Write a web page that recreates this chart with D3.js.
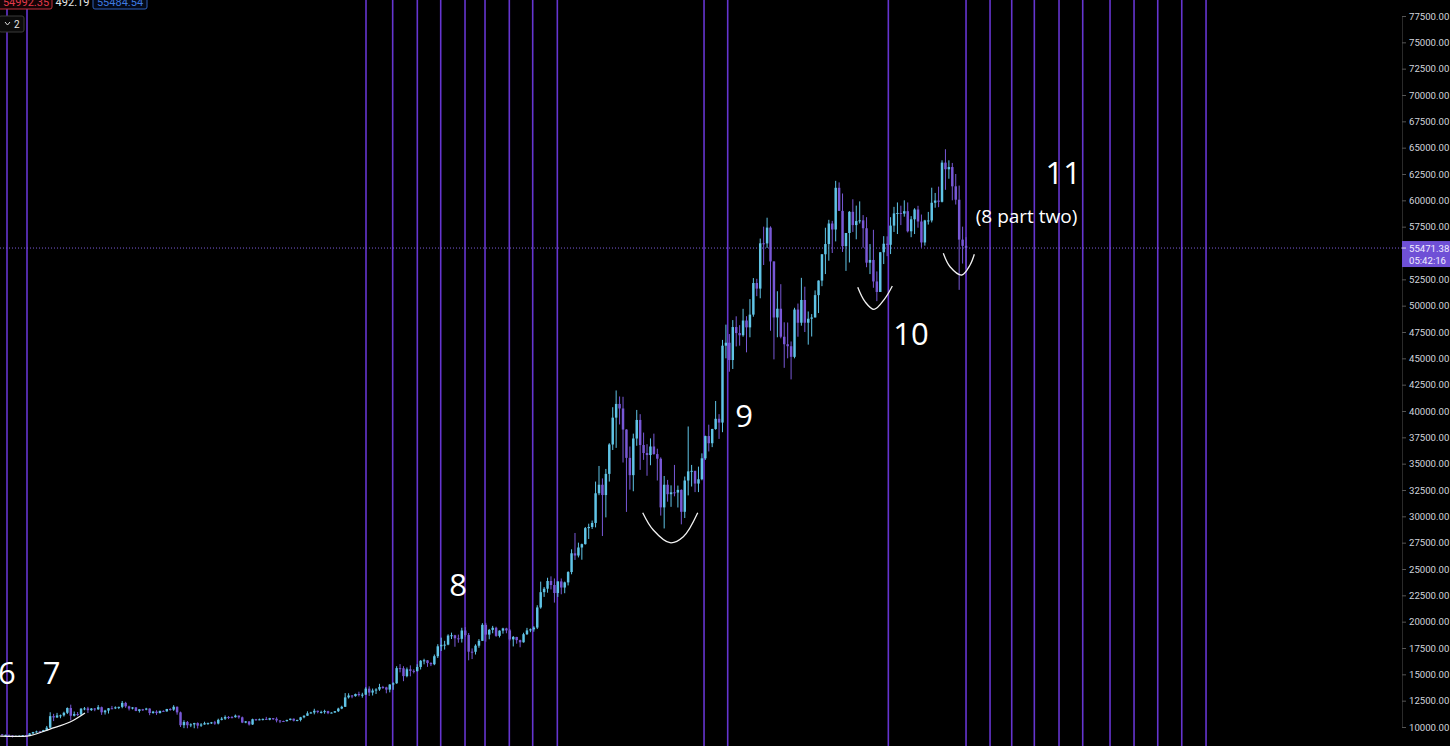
<!DOCTYPE html>
<html><head><meta charset="utf-8">
<script src="https://cdn.jsdelivr.net/npm/d3@7"></script>
<style>html,body{margin:0;padding:0;background:#000;overflow:hidden}</style>
</head><body>
<svg id="chart" width="1450" height="746"></svg>
<script>
// ---------- DATA (daily candles, [open, high, low, close]) ----------
const startDate = "2020-07-12";
const jul2020 = [
 [9235,9340,9150,9300],[9300,9340,9200,9240],[9240,9275,9120,9255],[9255,9275,9170,9195],
 [9195,9210,9005,9130],[9130,9190,9060,9155],[9155,9195,9120,9170],[9170,9230,9110,9210],
 [9210,9220,9130,9160],[9160,9420,9150,9390],[9390,9540,9280,9525],[9525,9650,9460,9580],
 [9580,9640,9460,9540],[9540,9730,9520,9700],[9700,10100,9650,9935],[9935,11400,9900,11030],
 [11030,11250,10560,10910],[10910,11340,10860,11100],[11100,11180,10830,11110],[11110,11450,10990,11350]];
const aug2020 = [
 [11350,11860,11230,11800],[11800,12120,10630,11070],[11070,11470,11000,11230],[11230,11420,11030,11190],
 [11190,11790,11090,11740],[11740,11900,11590,11765],[11765,11915,11330,11600],[11600,11800,11530,11755],
 [11755,11800,11500,11675],[11675,12080,11630,11880],[11880,11940,11150,11395],[11395,11630,11180,11560],
 [11560,11800,11280,11780],[11780,12000,11700,11770],[11770,11960,11700,11865],[11865,11930,11700,11910],
 [11910,12470,11780,12290],[12290,12390,11820,11960],[11960,12020,11570,11750],[11750,11885,11670,11860],
 [11860,11890,11500,11525],[11525,11690,11370,11680],[11680,11720,11520,11650],[11650,11820,11590,11750],
 [11750,11770,11120,11330],[11330,11530,11260,11460],[11460,11590,11150,11320],[11320,11550,11290,11530],
 [11530,11580,11440,11480],[11480,11720,11460,11710],[11710,11790,11550,11650]];
const sep2020 = [
 [11650,12070,11530,11920],[11920,11950,11170,11390],[11390,11460,10000,10170],[10170,10640,9890,10470],
 [10470,10570,9880,10170],[10170,10350,9990,10250],[10250,10400,9880,10370],[10370,10440,9860,10130],
 [10130,10370,10010,10240],[10240,10500,10220,10360],[10360,10400,10200,10390],[10390,10480,10290,10440],
 [10440,10580,10210,10330],[10330,10790,10250,10680],[10680,10940,10630,10790],[10790,11100,10670,10950],
 [10950,11040,10750,10940],[10940,11030,10820,10930],[10930,11180,10890,11080],[11080,11090,10790,10920],
 [10920,10990,10370,10420],[10420,10570,10360,10530],[10530,10550,10140,10240],[10240,10790,10200,10740],
 [10740,10770,10590,10690],[10690,10800,10640,10730],[10730,10800,10620,10770],[10770,10960,10670,10690],
 [10690,10870,10640,10840],[10840,10850,10660,10780]];
const oct2020 = [
 [10780,10920,10440,10620],[10620,10660,10370,10570],[10570,10600,10510,10550],[10550,10690,10530,10670],
 [10670,10800,10630,10790],[10790,10800,10530,10600],[10600,10690,10540,10670],[10670,10960,10530,10920],
 [10920,11110,10830,11070],[11070,11490,11060,11300],[11300,11440,11270,11380],[11380,11730,11200,11540],
 [11540,11560,11300,11430],[11430,11550,11280,11430],[11430,11640,11260,11510],[11510,11540,11220,11320],
 [11320,11400,11300,11370],[11370,11500,11350,11500],[11500,11830,11420,11750],[11750,12020,11690,11920],
 [11920,13220,11900,12810],[12810,13200,12700,12990],[12990,13030,12730,12930],[12930,13170,12880,13130],
 [13130,13350,12900,13030],[13030,13250,12780,13070],[13070,13780,13050,13640],[13640,13860,12950,13270],
 [13270,13650,12990,13460],[13460,13680,13130,13560],[13560,14100,13430,13800]];
const nov2020 = [
 [13800,13900,13620,13760],[13760,13820,13200,13550],[13550,14070,13290,14030],[14030,14240,13530,14150],
 [14150,15770,14100,15590],[15590,15970,15190,15580],[15580,15770,14350,14830],[14830,15650,14720,15480],
 [15480,15850,14810,15330],[15330,15480,15090,15300],[15300,15960,15280,15700],[15700,16350,15460,16290],
 [16290,16480,15950,16330],[16330,16340,15710,16070],[16070,16150,15780,15960],[15960,16880,15870,16720],
 [16720,17860,16550,17660],[17660,18480,17220,17800],[17800,18180,17350,17820],[17820,18800,17760,18680],
 [18680,18960,18350,18710],[18710,18750,17620,18420],[18420,18770,18000,18370],[18370,19420,18020,19160],
 [19160,19480,18570,18730],[18730,18920,16330,17150],[17150,17460,16450,17140],[17140,17850,16880,17720],
 [17720,18350,17520,18180],[18180,19860,18180,19700]];
const dec2020 = [
 [19700,19890,18100,18770],[18770,19310,18330,19220],[19220,19600,18900,19420],[19420,19520,18560,18650],
 [18650,19180,18500,19150],[19150,19420,18860,19360],[19360,19420,18900,19170],[19170,19300,18200,18320],
 [18320,18640,17650,18550],[18550,18560,17910,18250],[18250,18290,17570,18040],[18040,18950,18010,18810],
 [18810,19410,18730,19170],[19170,19350,19000,19270],[19270,19570,19050,19440],[19440,21560,19300,21350],
 [21350,23800,21230,22800],[22800,23290,22350,23130],[23130,24170,22750,23860],[23860,24300,23060,23480],
 [23480,24100,21810,22720],[22720,23840,22350,23820],[23820,24100,22600,23240],[23240,23800,22700,23730],
 [23730,24790,23440,24710],[24710,26870,24500,26490],[26490,28420,25860,26280],[26280,27500,26100,27040],
 [27040,27410,25880,27360],[27360,28990,27320,28880],[28880,29300,27850,28990]];
const jan2021 = [
 [28990,29600,28800,29370],[29370,33300,28950,32190],[32190,34780,32010,33000],[33000,33600,28130,32020],
 [32020,34500,29900,34030],[34030,36940,33300,36820],[36820,40360,36300,39370],[39370,41950,36500,40670],
 [40670,41380,38720,40240],[40240,41350,35110,38240],[38240,38260,30420,35550],[35550,36630,32530,33910],
 [33910,37850,32380,37390],[37390,40100,36700,39150],[39150,39700,34410,36770],[36770,37950,35360,36010],
 [36010,36850,33850,35820],[35820,37400,34850,36630],[36630,37850,35850,35910],[35910,36420,33400,35470],
 [35470,35600,30070,30850],[30850,33830,28850,33000],[33000,33460,31390,32100],[32100,32940,30900,32280],
 [32280,34880,31900,32260],[32260,32920,30840,32510],[32510,32560,29240,30430],[30430,33780,29840,33400],
 [33400,38530,31990,34270],[34270,34880,32830,34320],[34320,34320,32300,33110]];
const feb2021 = [
 [33110,34720,32300,33520],[33520,35980,33420,35510],[35510,37660,35360,37620],[37620,38700,36160,36940],
 [36940,38310,36570,38290],[38290,40950,38220,39260],[39260,39700,37350,38900],[38900,46750,37990,46200],
 [46200,48200,45000,46480],[46480,47310,43730,44840],[44840,48630,43990,47970],[47970,48990,46130,47400],
 [47400,48150,46200,47190],[47190,49700,47050,48590],[48590,49000,45570,47940],[47940,50620,47000,49150],
 [49150,52620,48950,52150],[52150,52550,50900,51620],[51620,56370,50700,55920],[55920,57500,53860,55910],
 [55910,58350,55480,57410],[57410,57530,47620,54200],[54200,54200,44900,48880],[48880,51370,47000,49710],
 [49710,52040,46900,47050],[47050,48420,44100,46340],[46340,48400,45000,46150],[46150,46600,43000,45140]];
const mar2021 = [
 [45140,49800,45000,49630],[49630,50200,47050,48380],[48380,52640,48100,50540],[50540,51800,47500,48380],
 [48380,49450,46300,48760],[48760,49200,47070,48880],[48880,51450,48880,51000],[51000,52400,49300,52380],
 [52380,54900,51850,54880],[54880,57400,53000,55850],[55850,58150,54270,57800],[57800,58050,55000,57230],
 [57230,61850,56100,61190],[61190,61700,59000,59000],[59000,60650,55100,55650],[55650,56900,53300,56900],
 [56900,58980,54100,58910],[58910,60100,57000,57650],[57650,59500,56300,58030],[58030,59900,57800,58100],
 [58100,58600,55500,57350],[57350,58400,53650,54080],[54080,55850,53000,54340],[54340,57200,51700,52300],
 [52300,53250,50430,51300],[51300,55100,51300,55070],[55070,56600,53950,55880],[55880,56580,54700,55780],
 [55780,58400,54900,57600],[57600,59380,57000,58760],[58760,59800,56800,58800]];
const apr2021 = [
 [58800,59490,57650,58740],[58740,60000,58450,58970],[58970,59800,56950,57060],[57060,58500,56500,58200],
 [58200,59250,56800,59130],[59130,59480,57400,57990],[57990,58650,55500,56000],[56000,58150,55700,58090],
 [58090,58900,57700,58090],[58090,61200,57900,59770],[59770,60700,59300,59980],[59980,61300,59350,59860],
 [59860,63800,59800,63580],[63580,64850,61000,62950],[62950,63800,62050,63160],[63160,63550,60000,61330],
 [61330,62500,59600,60060],[60060,61400,51500,56270],[56270,57500,54000,55680],[55680,56500,53500,55470]];

// vertical cycle lines (candle index, fractional)
const cycleLines = [2.41, 8.24, 107.07, 114.85, 122.03, 128.85, 135.94, 141.77, 148.85, 155.67, 162.85,
  205.62, 212.52, 259.35, 282, 289.0, 295.32, 301.91, 309.11, 316.02, 323.98, 330.98, 337.89, 344.89, 351.97];

// price-scale labels (55000 is hidden under the last-price badge in the reference)
const priceTicks = [10000,12500,15000,17500,20000,22500,25000,27500,30000,32500,35000,37500,40000,42500,
  45000,47500,50000,52500,57500,60000,62500,65000,67500,70000,72500,75000,77500];
const lastPrice = 55471.38;
const countdown = "05:42:16";
const bidText = "54992.35", spreadText = "492.19", askText = "55484.54", badgeText = "2";

// annotation labels [index, price, text, kind]
const labels = [
  [2.4, 14080, "6", "big"], [15.4, 14080, "7", "big"], [133.9, 22435, "8", "big"],
  [217.3, 38480, "9", "big"], [265.97, 46265, "10", "big"], [310.37, 61550, "11", "big"],
  [299.64, 57847, "(8 part two)", "small"]];
// hand-drawn curves, points as [index, price]
const curves = [
  [[0.4,9143],[9.1,9190],[14.94,9808],[20.8,10472],[25.15,11327]],
  [[187.74,30343],[190.83,28701],[195.7,27495],[199.58,28065],[203.78,30343]],
  [[250.43,51743],[252.55,50376],[255.18,49654],[258.38,50698],[260.51,51866]],
  [[275.38,54971],[277.34,53699],[280.75,52911],[283.17,53860],[284.42,54876]]];

// ---------- DRAW ----------
const ohlc = [].concat(jul2020, aug2020, sep2020, oct2020, nov2020, dec2020, jan2021, feb2021, mar2021, apr2021);
const W = 1450, H = 746, axisX = 1402;
const svg = d3.select("#chart");
svg.append("rect").attr("width", W).attr("height", H).attr("fill", "#000");

const x = d3.scaleLinear().domain([0.37, 409.1]).range([0, axisX]);
const y = d3.scaleLinear().domain([10000, 77500]).range([727, 16]);
const step = x(1) - x(0);

svg.append("defs").append("clipPath").attr("id", "plot")
  .append("rect").attr("x", 0).attr("y", 0).attr("width", axisX).attr("height", H);
const plot = svg.append("g").attr("clip-path", "url(#plot)");

// vertical lines
plot.append("g").selectAll("line").data(cycleLines).join("line")
  .attr("x1", d => x(d)).attr("x2", d => x(d)).attr("y1", 0).attr("y2", H)
  .attr("stroke", "#6535cf").attr("stroke-width", 1.6);

// last price dotted line
plot.append("line").attr("x1", 0).attr("x2", axisX).attr("y1", y(lastPrice)).attr("y2", y(lastPrice))
  .attr("stroke", "#7b5bd6").attr("stroke-width", 1).attr("stroke-dasharray", "1,2");

const upCol = "#60c4e6", downCol = "#7858d6";
const cg = plot.append("g");
cg.selectAll("line").data(ohlc).join("line")
  .attr("x1", (d, i) => x(i)).attr("x2", (d, i) => x(i))
  .attr("y1", d => y(d[1])).attr("y2", d => y(d[2]))
  .attr("stroke", d => d[3] >= d[0] ? upCol : downCol).attr("stroke-width", 1);
cg.selectAll("rect").data(ohlc).join("rect")
  .attr("x", (d, i) => x(i) - step * 0.36).attr("width", step * 0.72)
  .attr("y", d => y(Math.max(d[0], d[3])))
  .attr("height", d => Math.max(1, Math.abs(y(d[0]) - y(d[3]))))
  .attr("fill", d => d[3] >= d[0] ? upCol : downCol);

// curves
const line = d3.line().x(d => x(d[0])).y(d => y(d[1])).curve(d3.curveCatmullRom);
plot.append("g").selectAll("path").data(curves).join("path")
  .attr("d", line).attr("fill", "none").attr("stroke", "#f2f2f2").attr("stroke-width", 1.3);

// labels
plot.append("g").selectAll("text").data(labels).join("text")
  .attr("x", d => x(d[0])).attr("y", d => y(d[1]))
  .attr("text-anchor", "middle").attr("fill", "#ffffff")
  .attr("font-family", "'Open Sans', sans-serif")
  .attr("font-size", d => d[3] === "big" ? 31 : 19)
  .text(d => d[2]);

// right axis
const axis = svg.append("g").attr("transform", `translate(${axisX},0)`)
  .call(d3.axisRight(y).tickValues(priceTicks).tickFormat(d3.format(".2f")).tickSize(4).tickPadding(3));
axis.select(".domain").attr("stroke", "#2a2a2a");
axis.selectAll(".tick line").attr("stroke", "#555");
axis.selectAll(".tick text").attr("fill", "#d1d4dc").attr("font-family", "Roboto, sans-serif").attr("font-size", 9.6);

// last price badge
const py = y(lastPrice);
svg.append("rect").attr("x", axisX).attr("y", py - 7).attr("width", W - axisX).attr("height", 26).attr("fill", "#6f50d6");
svg.append("line").attr("x1", axisX).attr("x2", axisX + 4).attr("y1", py).attr("y2", py).attr("stroke", "#ddd");
svg.append("text").attr("x", axisX + 7).attr("y", py + 4).attr("fill", "#f0ecff")
  .attr("font-family", "Roboto, sans-serif").attr("font-size", 9.6).text(d3.format(".2f")(lastPrice));
svg.append("text").attr("x", axisX + 7).attr("y", py + 16).attr("fill", "#f0ecff")
  .attr("font-family", "Roboto, sans-serif").attr("font-size", 9.6).text(countdown);

// header (sell / spread / buy)
const hdr = svg.append("g").attr("font-family", "Roboto, sans-serif").attr("font-size", 11);
hdr.append("rect").attr("x", -4).attr("y", -14).attr("width", 56).attr("height", 23).attr("rx", 2)
  .attr("fill", "#140406").attr("stroke", "#c0303f");
hdr.append("text").attr("x", 26).attr("y", 6).attr("text-anchor", "middle").attr("fill", "#e23a4c").text(bidText);
hdr.append("text").attr("x", 72.5).attr("y", 6).attr("text-anchor", "middle").attr("fill", "#e8e8e8").text(spreadText);
hdr.append("rect").attr("x", 93).attr("y", -14).attr("width", 54).attr("height", 23).attr("rx", 2)
  .attr("fill", "#040a18").attr("stroke", "#2f5fb8");
hdr.append("text").attr("x", 120).attr("y", 6).attr("text-anchor", "middle").attr("fill", "#3f7be0").text(askText);
hdr.append("rect").attr("x", -1).attr("y", 16).attr("width", 25).attr("height", 16).attr("rx", 2)
  .attr("fill", "#0b0b0b").attr("stroke", "#3a3a3a");
hdr.append("path").attr("d", "M5,22 L7.5,25 L10,22").attr("fill", "none").attr("stroke", "#ddd").attr("stroke-width", 1);
hdr.append("text").attr("x", 14).attr("y", 28).attr("fill", "#e8e8e8").attr("font-size", 10).text(badgeText);
</script>
</body></html>
